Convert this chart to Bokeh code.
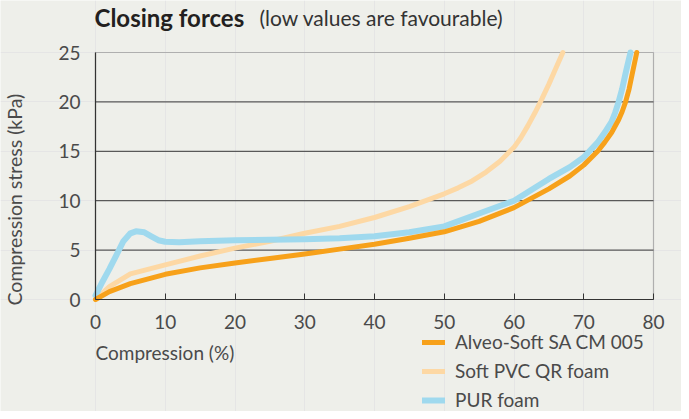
from bokeh.plotting import figure
from bokeh.models import (Legend, LegendItem, Label, Range1d, FixedTicker,
                          LinearAxis, BoxAnnotation)
from bokeh.embed import file_html
from bokeh.resources import INLINE
import math

# ---------------- Data ----------------
alveo_x = [0, 2, 5, 10, 15, 20, 25, 30, 35, 40, 45, 50, 55, 60, 65, 68, 70, 72, 73, 74, 75, 75.5, 76, 76.5, 77, 77.6]
alveo_y = [0, 0.8, 1.6, 2.55, 3.2, 3.7, 4.15, 4.6, 5.1, 5.6, 6.2, 6.85, 7.9, 9.3, 11.2, 12.5, 13.6, 15.0, 15.9, 16.9, 18.2, 19.0, 20.0, 21.3, 23.0, 25.0]

pvc_x = [0, 2, 5, 10, 15, 20, 25, 30, 35, 40, 45, 50, 52, 54, 56, 58, 60, 61, 62, 63, 64, 65, 66, 67]
pvc_y = [0, 1.3, 2.6, 3.5, 4.4, 5.2, 5.9, 6.7, 7.4, 8.3, 9.4, 10.7, 11.3, 12.0, 12.9, 14.0, 15.4, 16.4, 17.6, 18.9, 20.3, 21.8, 23.4, 25.0]

pur_x = [0, 1, 2, 3, 4, 5, 5.8, 7, 8, 9, 10, 12, 15, 20, 25, 30, 35, 40, 45, 50, 55, 60, 65, 68, 70, 72, 73, 74, 74.5, 75, 75.5, 76, 76.7]
pur_y = [0.4, 1.8, 3.1, 4.5, 5.9, 6.7, 6.9, 6.8, 6.4, 6.0, 5.85, 5.8, 5.9, 6.0, 6.05, 6.1, 6.2, 6.4, 6.8, 7.4, 8.7, 10.0, 12.2, 13.4, 14.4, 15.9, 16.9, 18.0, 18.9, 20.0, 21.3, 22.9, 25.0]

x_ticks = [0, 10, 20, 30, 40, 50, 60, 70, 80]
y_ticks = [0, 5, 10, 15, 20, 25]
x_min, x_max = 0, 80
y_min, y_max = 0, 25

series_names = ["Alveo-Soft SA CM 005", "Soft PVC QR foam", "PUR foam"]
title_bold = "Closing forces"
title_light = "(low values are favourable)"
x_label = "Compression (%)"
y_label = "Compression stress (kPa)"

# ---------------- Layout constants ----------------
W, H = 681, 411
PL, PR, PT, PB = 95, 653, 52, 299          # plot box in figure pixels
sx = (PR - PL) / (x_max - x_min)
sy = (PB - PT) / (y_max - y_min)
xr = Range1d(x_min - PL / sx, x_max + (W - PR) / sx)
yr = Range1d(y_min - (H - PB) / sy, y_max + PT / sy)

def dx(px):  # figure px -> data x
    return x_min + (px - PL) / sx

def dy(py):  # figure px (from top) -> data y
    return y_min + (PB - py) / sy

BG = "#eeefea"
TXT = "#4a4a4a"
DARK = "#333333"
GRID = "#595959"
FONT = "Lato"

p = figure(width=W, height=H, output_backend="svg", toolbar_location=None,
           x_range=xr, y_range=yr, x_axis_location=None, y_axis_location=None,
           min_border=0, min_border_left=0, min_border_right=0,
           min_border_top=0, min_border_bottom=0,
           background_fill_color=BG, border_fill_color=BG)
p.outline_line_color = None
p.title.visible = False

# horizontal grid lines inside the plot box, and the plot box border
grid_y = y_ticks[1:-1]
p.segment(x0=[x_min] * len(grid_y), x1=[x_max] * len(grid_y), y0=grid_y, y1=grid_y,
          line_color=GRID, line_width=1.2)
p.add_layout(BoxAnnotation(left=x_min, right=x_max, bottom=y_min, top=y_max,
                           fill_alpha=0, line_color=DARK, line_width=1.2, level="underlay"))

l_pvc = p.line(pvc_x, pvc_y, line_color="#fdd8a4", line_width=5, line_join="round", line_cap="round")
l_pur = p.line(pur_x, pur_y, line_color="#9fd9ee", line_width=6, line_join="round", line_cap="round")
l_alv = p.line(alveo_x, alveo_y, line_color="#f7a11a", line_width=5, line_join="round", line_cap="round")

xa = LinearAxis(fixed_location=y_min, bounds=(x_min, x_max), ticker=FixedTicker(ticks=x_ticks))
xa.axis_line_color = DARK
xa.axis_line_width = 1.2
xa.major_tick_in = 6
xa.major_tick_out = 0
xa.major_tick_line_color = DARK
xa.minor_tick_line_color = None
xa.major_label_text_font = FONT
xa.major_label_text_font_size = "19px"
xa.major_label_text_color = TXT
xa.major_label_standoff = 15
p.add_layout(xa, "below")

ya = LinearAxis(fixed_location=x_min, bounds=(y_min, y_max), ticker=FixedTicker(ticks=y_ticks))
ya.axis_line_color = DARK
ya.axis_line_width = 1.2
ya.major_tick_in = 0
ya.major_tick_out = 0
ya.minor_tick_line_color = None
ya.major_label_text_font = FONT
ya.major_label_text_font_size = "19px"
ya.major_label_text_color = TXT
ya.major_label_standoff = 15
p.add_layout(ya, "left")

# ---------------- Texts ----------------
p.add_layout(Label(x=dx(94), y=dy(17), text=title_bold,
                   text_font=FONT, text_font_style="bold", text_font_size="24px",
                   text_color="#231f20", text_baseline="middle", text_align="left"))
p.add_layout(Label(x=dx(259), y=dy(17), text=title_light,
                   text_font=FONT, text_font_size="21px",
                   text_color="#333333", text_baseline="middle", text_align="left"))
p.add_layout(Label(x=dx(95), y=dy(352), text=x_label,
                   text_font=FONT, text_font_size="19px",
                   text_color=TXT, text_baseline="middle", text_align="left"))
p.add_layout(Label(x=dx(14), y=dy(305), text=y_label,
                   angle=math.pi / 2, text_font=FONT, text_font_size="19.5px",
                   text_color=TXT, text_baseline="middle", text_align="left"))

legend = Legend(items=[LegendItem(label=series_names[0], renderers=[l_alv]),
                       LegendItem(label=series_names[1], renderers=[l_pvc]),
                       LegendItem(label=series_names[2], renderers=[l_pur])],
                location=(422, 0), orientation="vertical",
                background_fill_alpha=0, border_line_color=None,
                glyph_width=23, glyph_height=20, label_height=20, spacing=6,
                padding=0, margin=0, label_standoff=10,
                label_text_font=FONT, label_text_font_size="19px", label_text_color=TXT)
p.add_layout(legend, "center")

open("out.html", "w").write(file_html(p, INLINE))
